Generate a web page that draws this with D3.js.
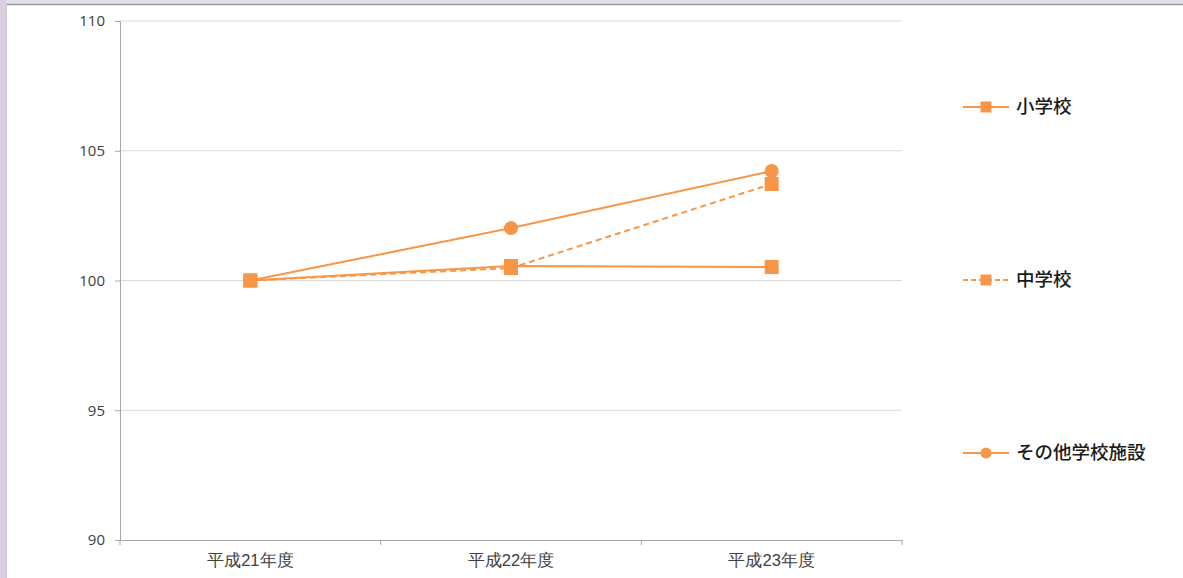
<!DOCTYPE html>
<html><head><meta charset="utf-8">
<script src="https://cdn.jsdelivr.net/npm/d3@7/dist/d3.min.js"></script>
<style>body{margin:0;background:#fff;}svg{display:block;font-family:"Noto Sans CJK JP","Noto Sans",sans-serif;}</style>
</head><body><svg id="c" width="1183" height="578"></svg>
<script>
const categories = ["平成21年度","平成22年度","平成23年度"];
const seriesNames = ["小学校","中学校","その他学校施設"];
const shogakko = [100, 100.56, 100.52];
const chugakko = [100, 100.48, 103.72];
const sonota = [100, 102.02, 104.22];
const yTicks = [90, 95, 100, 105, 110];
const series = [
  {name: seriesNames[0], values: shogakko, marker: "square", dash: null},
  {name: seriesNames[1], values: chugakko, marker: "square", dash: "6,4"},
  {name: seriesNames[2], values: sonota, marker: "circle", dash: null}
];
const color = "#f79646";
const svg = d3.select("#c");
// frame
svg.append("rect").attr("x",0).attr("y",0).attr("width",1183).attr("height",4).attr("fill","#e4dfea");
svg.append("rect").attr("x",0).attr("y",0).attr("width",6).attr("height",578).attr("fill","#d8cfe3");
svg.append("line").attr("x1",6).attr("x2",1183).attr("y1",4.5).attr("y2",4.5).attr("stroke","#9a9a9a").attr("stroke-width",1.5);
svg.append("line").attr("x1",6.5).attr("x2",6.5).attr("y1",4).attr("y2",578).attr("stroke","#c8c8c8").attr("stroke-width",1);

const x = d3.scaleBand().domain(categories).range([120, 902]);
const y = d3.scaleLinear().domain([90, 110]).range([540, 21]);

// gridlines
svg.append("g").selectAll("line").data(yTicks.filter(t=>t!==90)).join("line")
  .attr("x1",120).attr("x2",902).attr("y1",d=>y(d)).attr("y2",d=>y(d))
  .attr("stroke","#d9d9d9").attr("stroke-width",1);

// y axis
const ya = svg.append("g").attr("transform","translate(120,0)")
  .call(d3.axisLeft(y).tickValues(yTicks).tickSize(5).tickPadding(10));
ya.select(".domain").attr("stroke","#a6a6a6");
ya.selectAll(".tick line").attr("stroke","#a6a6a6");
ya.selectAll("text").attr("font-size",15).attr("fill","#404040").attr("font-family","'Open Sans','Liberation Sans',sans-serif");

// x axis
const xa = svg.append("g").attr("transform","translate(0,540)")
  .call(d3.axisBottom(x).tickSize(0).tickPadding(14));
xa.select(".domain").attr("stroke","#a6a6a6");
xa.selectAll("text").attr("font-size",16.5).attr("fill","#404040");
svg.append("g").selectAll("line").data([120, ...categories.map(c=>x(c)+x.bandwidth())]).join("line")
  .attr("x1",d=>d).attr("x2",d=>d).attr("y1",540).attr("y2",545).attr("stroke","#a6a6a6");

const line = d3.line().x((d,i)=>x(categories[i])+x.bandwidth()/2).y(d=>y(d));
function drawMarker(g, type, cx, cy, s){
  if(type==="square") g.append("rect").attr("x",cx-s/2).attr("y",cy-s/2).attr("width",s).attr("height",s).attr("fill",color);
  else g.append("circle").attr("cx",cx).attr("cy",cy).attr("r",s/2).attr("fill",color);
}
series.forEach(s=>{
  svg.append("path").datum(s.values).attr("d",line).attr("fill","none")
    .attr("stroke",color).attr("stroke-width",2).attr("stroke-dasharray",s.dash);
});
series.forEach(s=>{
  const g = svg.append("g");
  s.values.forEach((v,i)=>drawMarker(g, s.marker, x(categories[i])+x.bandwidth()/2, y(v), 14));
});

// legend
const legY = [107, 280, 453];
series.forEach((s,i)=>{
  const g = svg.append("g").attr("transform",`translate(963,${legY[i]})`);
  g.append("line").attr("x1",0).attr("x2",46).attr("y1",0).attr("y2",0).attr("stroke",color).attr("stroke-width",2).attr("stroke-dasharray",s.dash? "5,3":null);
  drawMarker(g, s.marker, 23, 0, 11);
  g.append("text").attr("x",53).attr("y",0).attr("dy","0.35em").attr("font-size",18.5).attr("font-weight",500).attr("fill","#1a1a1a").text(s.name);
});
</script></body></html>
